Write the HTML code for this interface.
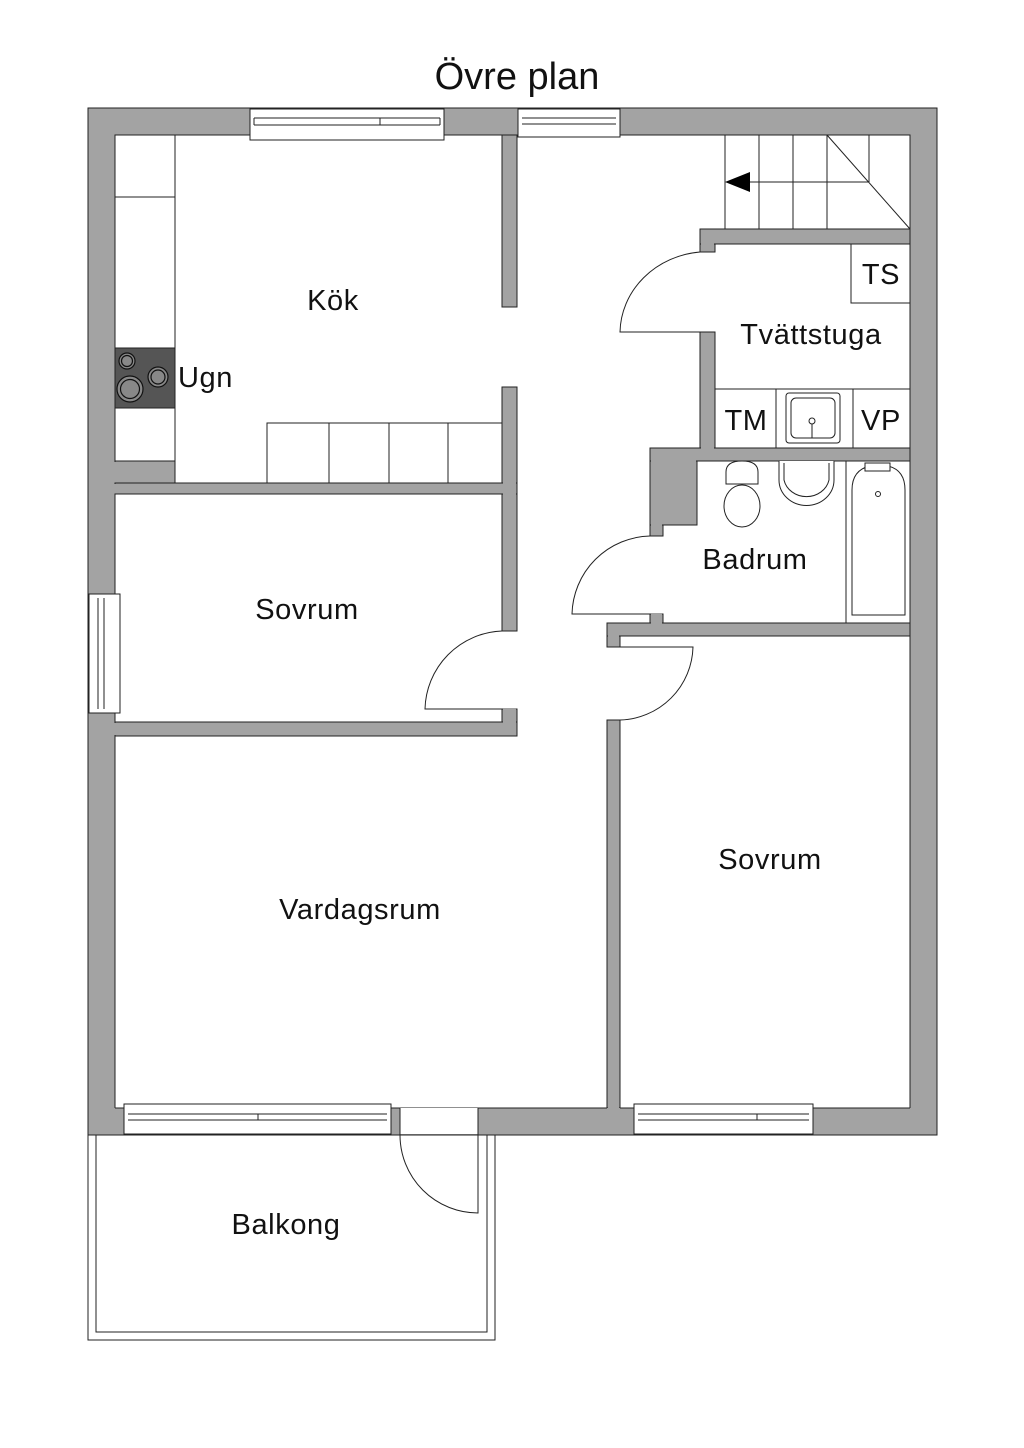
<!DOCTYPE html>
<html><head><meta charset="utf-8"><style>
html,body{margin:0;padding:0;background:#fff}
svg{display:block}
text{font-family:"Liberation Sans",sans-serif;fill:#111}
</style></head><body>
<svg width="1024" height="1448" viewBox="0 0 1024 1448" xmlns="http://www.w3.org/2000/svg">
<g stroke="#222" stroke-width="1">
<rect x="88" y="108" width="849" height="1027" fill="#a3a3a3"/>
<rect x="115" y="135" width="795" height="973" fill="#fff"/>
<g fill="#a3a3a3">
<rect x="502" y="135" width="15" height="172"/>
<rect x="502" y="387" width="15" height="244"/>
<rect x="115" y="483" width="402" height="11"/>
<rect x="115" y="461" width="60" height="22"/>
<rect x="115" y="722" width="402" height="14"/>
<rect x="502" y="709" width="15" height="13"/>
<rect x="700" y="229" width="210" height="15"/>
<rect x="700" y="244" width="15" height="8"/>
<rect x="700" y="332" width="15" height="116"/>
<rect x="650" y="448" width="260" height="13"/>
<rect x="650" y="461" width="47" height="64"/>
<rect x="650" y="525" width="13" height="11"/>
<rect x="650" y="614" width="13" height="9"/>
<rect x="607" y="623" width="303" height="13"/>
<rect x="607" y="636" width="13" height="11"/>
<rect x="607" y="720" width="13" height="388"/>
</g>
</g>
<g fill="#a3a3a3">
<rect x="89" y="462" width="85" height="20.5"/>
<rect x="89" y="484" width="427" height="9.5"/>
<rect x="503" y="482" width="13" height="13"/>
<rect x="89" y="723" width="427" height="12"/>
<rect x="503" y="708" width="13" height="15"/>
<rect x="701" y="230" width="208" height="13"/>
<rect x="701" y="243" width="13" height="8"/>
<rect x="701" y="440" width="13" height="20"/>
<rect x="651" y="449" width="258" height="11"/>
<rect x="651" y="460" width="45" height="64"/>
<rect x="651" y="524" width="11" height="11"/>
<rect x="651" y="613" width="11" height="11"/>
<rect x="608" y="624" width="301" height="11"/>
<rect x="608" y="634" width="11" height="12"/>
<rect x="608" y="1100" width="11" height="34"/>
<rect x="910" y="136" width="26" height="998"/>
<rect x="89" y="1108" width="848" height="26"/>
</g>
<g fill="none" stroke="#222" stroke-width="1">
<line x1="115" y1="1108" x2="607" y2="1108"/>
<line x1="620" y1="1108" x2="910" y2="1108"/>
<line x1="910" y1="135" x2="910" y2="1108"/>
<line x1="88" y1="1135" x2="937" y2="1135"/>
<line x1="937" y1="108" x2="937" y2="1135"/>
<line x1="88" y1="108" x2="88" y2="1135"/>
</g>
<rect x="400" y="1108" width="78" height="26" fill="#fff"/>
<line x1="400" y1="1108" x2="400" y2="1135" stroke="#222"/>
<line x1="478" y1="1108" x2="478" y2="1135" stroke="#222"/>
<g stroke="#222" stroke-width="1" fill="#fff">
<rect x="250" y="109" width="194" height="31"/>
<line x1="254" y1="118" x2="440" y2="118"/><line x1="254" y1="125" x2="440" y2="125"/>
<line x1="254" y1="118" x2="254" y2="125"/><line x1="440" y1="118" x2="440" y2="125"/>
<line x1="380" y1="118" x2="380" y2="125"/>
<rect x="518" y="109" width="102" height="28"/>
<line x1="522" y1="118" x2="616" y2="118"/><line x1="522" y1="124" x2="616" y2="124"/>
<rect x="89" y="594" width="31" height="119"/>
<line x1="98" y1="598" x2="98" y2="709"/><line x1="104" y1="598" x2="104" y2="709"/>
<rect x="124" y="1104" width="267" height="30"/>
<line x1="128" y1="1114" x2="387" y2="1114"/><line x1="128" y1="1120" x2="387" y2="1120"/>
<line x1="258" y1="1114" x2="258" y2="1120"/>
<rect x="634" y="1104" width="179" height="30"/>
<line x1="638" y1="1114" x2="809" y2="1114"/><line x1="638" y1="1120" x2="809" y2="1120"/>
<line x1="757" y1="1114" x2="757" y2="1120"/>
</g>
<g stroke="#222" stroke-width="1" fill="none">
<line x1="175" y1="135" x2="175" y2="483"/>
<line x1="115" y1="197" x2="175" y2="197"/>
<line x1="115" y1="461" x2="175" y2="461"/>
<rect x="115" y="348" width="60" height="60" fill="#555"/>
<rect x="267" y="423" width="235" height="60"/>
<line x1="329" y1="423" x2="329" y2="483"/><line x1="389" y1="423" x2="389" y2="483"/><line x1="448" y1="423" x2="448" y2="483"/>
</g>
<g stroke="#111" stroke-width="1.2" fill="#888">
<circle cx="127" cy="361" r="8"/><circle cx="127" cy="361" r="5.5"/>
<circle cx="130" cy="389" r="13"/><circle cx="130" cy="389" r="9.5"/>
<circle cx="158" cy="377" r="10"/><circle cx="158" cy="377" r="7"/>
</g>
<g stroke="#222" stroke-width="1" fill="none">
<line x1="725" y1="135" x2="725" y2="229"/>
<line x1="759" y1="135" x2="759" y2="229"/>
<line x1="793" y1="135" x2="793" y2="229"/>
<line x1="827" y1="135" x2="827" y2="229"/>
<line x1="869" y1="135" x2="869" y2="182"/>
<line x1="740" y1="182" x2="869" y2="182"/>
<line x1="827" y1="135" x2="910" y2="229"/>
</g>
<polygon points="725,182 750,172 750,192" fill="#000"/>
<g stroke="#222" stroke-width="1" fill="none">
<path d="M715 332 L620 332 A88 82 0 0 1 700 252"/>
<path d="M650 614 L572 614 A80 80 0 0 1 650 536"/>
<path d="M502 709 L425 709 A80 80 0 0 1 502 631"/>
<path d="M620 647 L693 647 A75 75 0 0 1 620 720"/>
<path d="M478 1135 L478 1213 A78 78 0 0 1 400 1135"/>
</g>
<g stroke="#222" stroke-width="1" fill="none">
<rect x="851" y="244" width="59" height="59"/>
<line x1="715" y1="389" x2="910" y2="389"/>
<line x1="776" y1="389" x2="776" y2="448"/>
<line x1="853" y1="389" x2="853" y2="448"/>
<rect x="786" y="393" width="54" height="50" rx="3"/>
<rect x="791" y="398" width="44" height="40" rx="5"/>
<circle cx="812" cy="421" r="3"/>
<line x1="812" y1="424" x2="812" y2="438"/>
</g>
<g stroke="#222" stroke-width="1" fill="#fff">
<line x1="846" y1="461" x2="846" y2="623"/>
<ellipse cx="742" cy="506" rx="18" ry="21"/>
<path d="M726 472 Q726 461 742 461 Q758 461 758 472 L758 484 L726 484 Z"/>
<path d="M779 461 L779 480 A27 25 0 0 0 834 480 L834 461"/>
<path d="M784 463 L784 480 A23 21 0 0 0 829 480 L829 463" fill="none"/>
<path d="M852 615 L852 490 Q852 470 870 466 L888 466 Q905 470 905 490 L905 615 Z" fill="none"/>
<circle cx="878" cy="494" r="2.5"/>
<rect x="865" y="463" width="25" height="8"/>
</g>
<g stroke="#222" stroke-width="1" fill="none">
<polyline points="88,1135 88,1340 495,1340 495,1135"/>
<polyline points="96,1135 96,1332 487,1332 487,1135"/>
</g>
<text x="517" y="89" font-size="38" text-anchor="middle">Övre plan</text>
<g font-size="29" text-anchor="middle" letter-spacing="0.6">
<text x="333" y="310">Kök</text>
<text x="178" y="387" text-anchor="start">Ugn</text>
<text x="811" y="344">Tvättstuga</text>
<text x="881" y="284">TS</text>
<text x="746" y="430">TM</text>
<text x="881" y="430">VP</text>
<text x="755" y="569">Badrum</text>
<text x="307" y="619">Sovrum</text>
<text x="770" y="869">Sovrum</text>
<text x="360" y="919">Vardagsrum</text>
<text x="286" y="1234">Balkong</text>
</g>
</svg>
</body></html>
